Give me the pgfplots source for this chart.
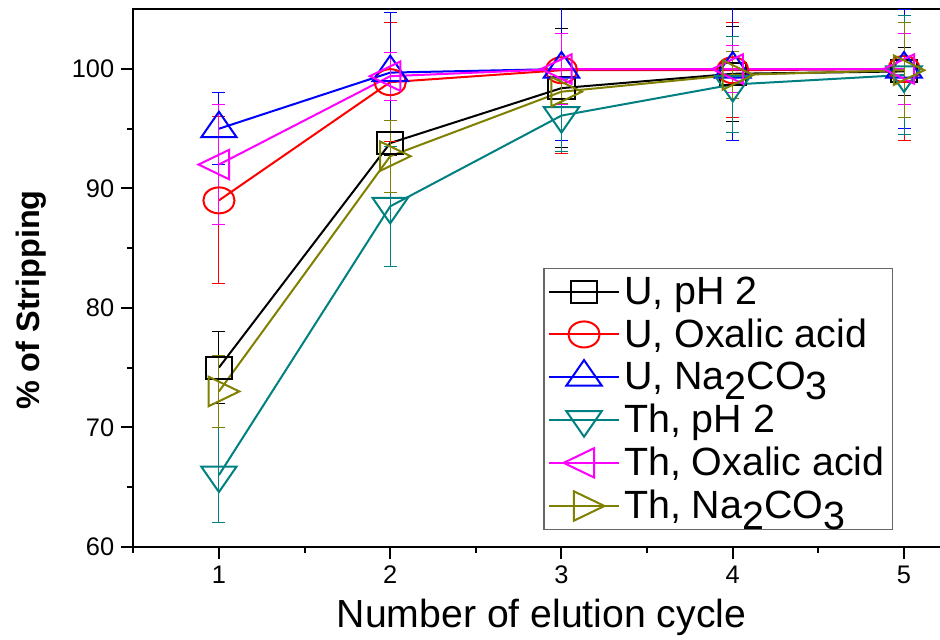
\documentclass[border=0pt]{standalone}
\usepackage{fontspec}
\setmainfont{Liberation Sans}
\usepackage{pgfplots}
\pgfplotsset{compat=1.18}
\definecolor{tealc}{RGB}{0,128,128}
\definecolor{olivec}{RGB}{128,128,0}
\definecolor{magc}{RGB}{255,0,255}
\definecolor{redc}{RGB}{255,0,0}
\definecolor{bluec}{RGB}{0,0,255}
\newcommand{\sub}[1]{\raisebox{-0.26em}{#1}}
\begin{document}
\begin{tikzpicture}
\useasboundingbox (-66.65pt,-46.15pt) rectangle (403.35pt,273.35pt);
\begin{axis}[
  scale only axis, width=404.2pt, height=268.7pt,
  xmin=0.5, xmax=5.22, ymin=60, ymax=105,
  xtick={1,...,5}, ytick={60,70,...,100},
  minor xtick={0.5,1.5,...,4.5}, minor ytick={65,75,...,95},
  tick align=outside, xtick pos=bottom, ytick pos=left,
  major tick length=6pt, minor tick length=3pt,
  axis line style={line width=1pt},
  tick style={black, line width=1pt},
  /pgf/number format/assume math mode=true,
  ticklabel style={font=\fontsize{12.7}{13}\selectfont},
  xlabel={Number of elution cycle},
  xlabel style={font=\fontsize{19.6}{20}\selectfont, at={(axis description cs:0.505,-0.151)}, anchor=base},
  ylabel={\% of Stripping},
  ylabel style={font=\fontsize{16.2}{17}\selectfont\bfseries, at={(axis description cs:-0.126,0.459)}, anchor=center},
  legend cell align=left,
  legend style={at={(rel axis cs:0.940,0.5187)}, anchor=north east,
    draw=black!60, line width=0.6pt, font=\fontsize{19.7}{20}\selectfont,
    row sep=1.8pt, inner sep=2pt},
  legend image code/.code={\draw[mark repeat=2,mark phase=2] plot coordinates {(0pt,0pt) (17.5pt,0pt) (35pt,0pt)};},
  every axis plot/.append style={line width=1pt},
  error bars/y dir=both, error bars/y explicit,
  error bars/error bar style={line width=0.5pt},
  error bars/error mark options={rotate=90, mark size=3.25pt, line width=0.5pt},
]
% U, pH 2
\addplot[black, mark=square, mark size=5.5pt, mark options={solid, fill=white, xscale=1.2}]
  coordinates {(1,75) +- (0,3) (2,93.8) +- (0,1) (3,98.4) +- (0,5) (4,99.6) +- (0,4) (5,99.8) +- (0,2)};
\addlegendentry{U, pH 2}
% U, oxalic acid
\addplot[redc, mark=o, mark size=6.5pt, mark options={solid, fill=white, xscale=1.2}]
  coordinates {(1,89) +- (0,7) (2,98.9) +- (0,5) (3,99.9) +- (0,7) (4,99.9) +- (0,4) (5,100) +- (0,6)};
\addlegendentry{U, Oxalic acid}
% U, Na2CO3
\addplot[bluec, mark=triangle, mark size=8.5pt, mark options={solid, fill=white, xscale=1.2}]
  coordinates {(1,95) +- (0,3) (2,99.7) +- (0,5) (3,100) +- (0,6) (4,100) +- (0,6) (5,100) +- (0,5)};
\addlegendentry{U, Na\sub{2}CO\sub{3}}
% Th, pH 2
\addplot[tealc, mark=triangle, mark size=8.5pt, mark options={solid, fill=white, xscale=1.2, rotate=180}]
  coordinates {(1,66) +- (0,4) (2,88.5) +- (0,5) (3,96.1) +- (0,3) (4,98.7) +- (0,4) (5,99.5) +- (0,5)};
\addlegendentry{Th, pH 2}
% Th, oxalic acid
\addplot[magc, mark=triangle, mark size=8.5pt, mark options={solid, fill=white, xscale=1.2, rotate=90}]
  coordinates {(1,92) +- (0,5) (2,99.4) +- (0,2) (3,100) +- (0,3) (4,100) +- (0,2) (5,100) +- (0,3)};
\addlegendentry{Th, Oxalic acid}
% Th, Na2CO3
\addplot[olivec, mark=triangle, mark size=8.5pt, mark options={solid, fill=white, xscale=1.2, rotate=-90}]
  coordinates {(1,73) +- (0,3) (2,92.7) +- (0,3) (3,98.1) +- (0,1) (4,99.5) +- (0,2) (5,99.9) +- (0,4)};
\addlegendentry{Th, Na\sub{2}CO\sub{3}}
\end{axis}
\end{tikzpicture}
\end{document}
